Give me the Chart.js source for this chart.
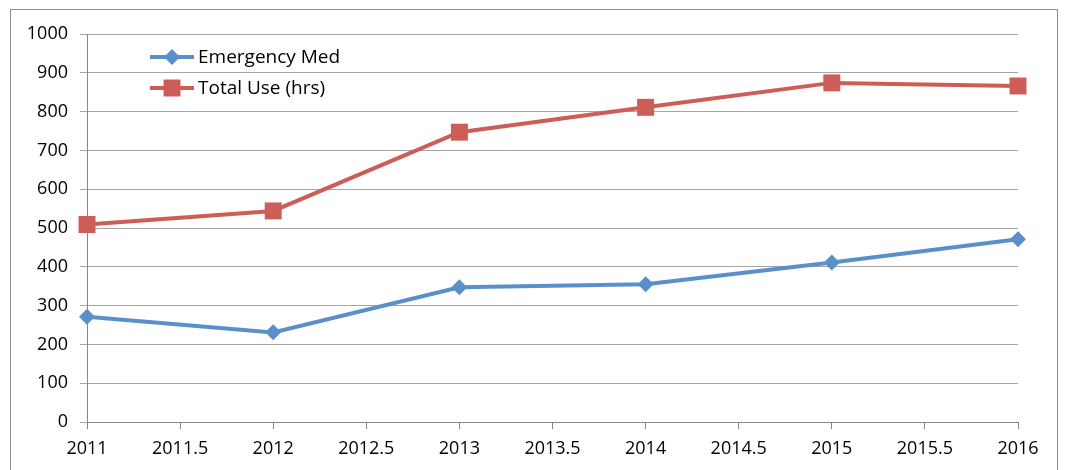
<!DOCTYPE html>
<html>
<head>
<meta charset="utf-8">
<script src="https://cdn.jsdelivr.net/npm/chart.js@4.4.0/dist/chart.umd.min.js"></script>
<style>
  html, body { margin: 0; padding: 0; background: #fff; }
</style>
</head>
<body>
<canvas id="chart" width="1065" height="470"></canvas>
<script>
const years = [2011, 2012, 2013, 2014, 2015, 2016];
const emergencyMed = [271, 231, 347, 355, 411, 471];
const totalUse = [509, 544, 747, 811, 874, 866];
const seriesNames = ['Emergency Med', 'Total Use (hrs)'];

const FONT = '"Open Sans", "Liberation Sans", sans-serif';

function toPoints(vals) {
    return years.map((y, i) => ({ x: y, y: vals[i] }));
}

// outer frame around the whole chart
const framePlugin = {
    id: 'frame',
    beforeDraw(chart) {
        const ctx = chart.ctx;
        ctx.save();
        ctx.strokeStyle = '#8c8c8c';
        ctx.lineWidth = 1;
        ctx.strokeRect(10.5, 9.5, 1047, 480);
        ctx.restore();
    }
};

// legend drawn inside the plot, top left
const insideLegend = {
    id: 'insideLegend',
    afterDraw(chart) {
        const ctx = chart.ctx;
        const x0 = 150, x1 = 194, rows = [57, 88];
        ctx.save();
        chart.data.datasets.forEach((ds, i) => {
            const y = rows[i];
            ctx.strokeStyle = ds.borderColor;
            ctx.lineWidth = ds.borderWidth;
            ctx.beginPath();
            ctx.moveTo(x0, y);
            ctx.lineTo(x1, y);
            ctx.stroke();
            ctx.fillStyle = ds.pointBackgroundColor;
            ctx.strokeStyle = ds.pointBackgroundColor;
            Chart.helpers.drawPoint(ctx, {
                pointStyle: ds.pointStyle,
                radius: ds.pointRadius,
                borderWidth: 0
            }, (x0 + x1) / 2, y);
            ctx.fillStyle = '#000';
            ctx.font = '19px ' + FONT;
            ctx.textBaseline = 'middle';
            ctx.fillText(ds.label, 198, y + 1);
        });
        ctx.restore();
    }
};

new Chart(document.getElementById('chart'), {
    type: 'line',
    data: {
        datasets: [{
            label: seriesNames[0],
            data: toPoints(emergencyMed),
            borderColor: '#5b8fc9',
            backgroundColor: '#5b8fc9',
            pointBackgroundColor: '#5b8fc9',
            pointBorderWidth: 0,
            borderWidth: 4,
            pointStyle: 'rectRot',
            pointRadius: 8,
            tension: 0,
            clip: false
        }, {
            label: seriesNames[1],
            data: toPoints(totalUse),
            borderColor: '#cd5d57',
            backgroundColor: '#cd5d57',
            pointBackgroundColor: '#cd5d57',
            pointBorderWidth: 0,
            borderWidth: 4,
            pointStyle: 'rect',
            pointRadius: 12,
            tension: 0,
            clip: false
        }]
    },
    options: {
        responsive: false,
        animation: false,
        layout: { padding: { top: 34, right: 47, left: 0, bottom: 0 } },
        plugins: {
            legend: { display: false },
            tooltip: { enabled: false }
        },
        scales: {
            x: {
                type: 'linear',
                min: 2011,
                max: 2016,
                afterFit(s) { s.height = 48; },
                ticks: {
                    stepSize: 0.5,
                    padding: 9,
                    color: '#000',
                    font: { family: FONT, size: 18 },
                    callback: v => String(v)
                },
                grid: {
                    drawOnChartArea: false,
                    tickLength: 7,
                    color: '#868686'
                },
                border: { color: '#868686', width: 1 }
            },
            y: {
                min: 0,
                max: 1000,
                afterFit(s) { s.width = 87; },
                ticks: {
                    stepSize: 100,
                    padding: 12,
                    color: '#000',
                    font: { family: FONT, size: 18 },
                    callback: v => String(v)
                },
                grid: {
                    color: '#a6a6a6',
                    tickLength: 7
                },
                border: { color: '#868686', width: 1 }
            }
        }
    },
    plugins: [framePlugin, insideLegend]
});
</script>
</body>
</html>
